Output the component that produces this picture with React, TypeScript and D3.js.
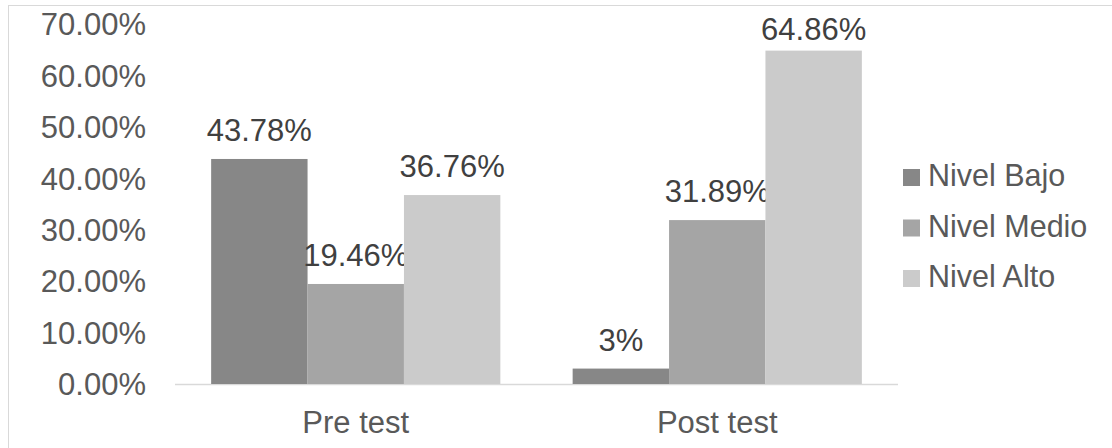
import React from "react";
import * as d3 from "d3";

const categories = ["Pre test", "Post test"];
const seriesNames = ["Nivel Bajo", "Nivel Medio", "Nivel Alto"];
const nivelBajo = [43.78, 3];
const nivelMedio = [19.46, 31.89];
const nivelAlto = [36.76, 64.86];
const yTicks = [0, 10, 20, 30, 40, 50, 60, 70];
const colors = ["#878787", "#a5a5a5", "#cbcbcb"];

const W = 1112;
const H = 448;
const FONT = "'Liberation Sans', Arial, sans-serif";

export default function App() {
  const seriesValues = [nivelBajo, nivelMedio, nivelAlto];
  const x0 = d3
    .scaleBand<string>()
    .domain(categories)
    .range([175, 898])
    .paddingInner(0.2)
    .paddingOuter(0.1);
  const x1 = d3
    .scaleBand<string>()
    .domain(seriesNames)
    .range([0, x0.bandwidth()])
    .padding(0);
  const y = d3.scaleLinear().domain([0, 70]).range([384, 24.2]);
  const fmt = (v: number) => (Number.isInteger(v) ? `${v}%` : `${v.toFixed(2)}%`);

  return (
    <svg
      width={W}
      height={H}
      style={{ position: "absolute", left: 0, top: 0, background: "#fff" }}
      fontFamily={FONT}
    >
      <rect x={8.5} y={5.5} width={W + 20} height={H + 20} fill="#fff" stroke="#d9d9d9" strokeWidth={1} />
      {yTicks.map((t) => (
        <text
          key={t}
          x={146}
          y={y(t)}
          dy="0.36em"
          textAnchor="end"
          fontSize={31}
          fill="#595959"
        >
          {`${t.toFixed(2)}%`}
        </text>
      ))}
      <line x1={175} x2={898} y1={384.5} y2={384.5} stroke="#d9d9d9" strokeWidth={1.5} />
      {categories.map((c, ci) =>
        seriesNames.map((s, si) => {
          const v = seriesValues[si][ci];
          const bx = (x0(c) as number) + (x1(s) as number);
          const bw = x1.bandwidth();
          const top = y(v);
          const labelY = Math.max(top - 18, 40);
          return (
            <g key={`${c}-${s}`}>
              <rect x={bx} y={top} width={bw} height={y(0) - top} fill={colors[si]} />
              <text
                x={bx + bw / 2}
                y={labelY}
                textAnchor="middle"
                fontSize={31}
                fill="#404040"
              >
                {fmt(v)}
              </text>
            </g>
          );
        })
      )}
      {categories.map((c) => (
        <text
          key={c}
          x={(x0(c) as number) + x0.bandwidth() / 2}
          y={433}
          textAnchor="middle"
          fontSize={31}
          fill="#595959"
        >
          {c}
        </text>
      ))}
      {seriesNames.map((s, i) => {
        const baseY = 186 + i * 50.5;
        return (
          <g key={s}>
            <rect x={903} y={baseY - 17} width={17} height={17} fill={colors[i]} />
            <text x={928} y={baseY} fontSize={30.5} fill="#595959">
              {s}
            </text>
          </g>
        );
      })}
    </svg>
  );
}
